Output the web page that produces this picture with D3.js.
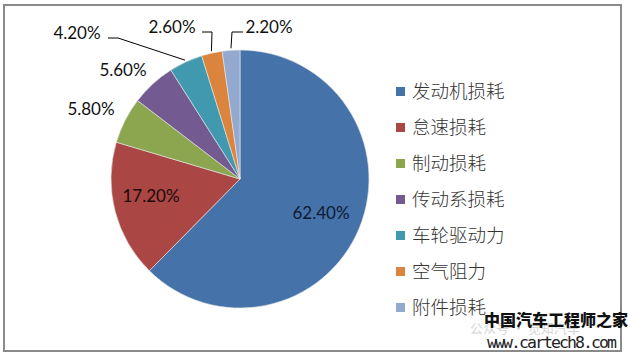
<!DOCTYPE html>
<html><head><meta charset="utf-8">
<script src="https://cdn.jsdelivr.net/npm/d3@7/dist/d3.min.js"></script>
<style>body{margin:0;background:#fff}svg{display:block}</style>
</head><body>
<svg id="c" width="628" height="359"></svg>
<script>
const categories = ["发动机损耗","怠速损耗","制动损耗","传动系损耗","车轮驱动力","空气阻力","附件损耗"];
const values = [62.4, 17.2, 5.8, 5.6, 4.2, 2.6, 2.2];
const labels = ["62.40%","17.20%","5.80%","5.60%","4.20%","2.60%","2.20%"];
const colors = ["#4672AA","#AA4643","#8BA64F","#735A90","#4199B0","#DB843D","#93A9CF"];

const svg = d3.select("#c");
svg.append("rect").attr("x",4).attr("y",5).attr("width",617).attr("height",346)
  .attr("fill","#fff").attr("stroke","#8a8a8a").attr("stroke-width",2);

const cx = 240, cy = 179, R = 129;
const g = svg.append("g").attr("transform",`translate(${cx},${cy})`);
const pie = d3.pie().sort(null).value(d=>d);
const arcs = pie(values);
const arc = d3.arc().innerRadius(0).outerRadius(R);
g.selectAll("path").data(arcs).enter().append("path")
  .attr("d",arc).attr("fill",(d,i)=>colors[i])
  .attr("stroke","#e8e8e8").attr("stroke-width",0.6);

const font = "Lato, 'Open Sans', sans-serif";
const labelPos = [
  {x:321, y:219},
  {x:151, y:202},
  {x:91, y:115},
  {x:123, y:76},
  {x:77, y:39},
  {x:172, y:33},
  {x:269, y:33}
];
svg.selectAll("text.lbl").data(arcs).enter().append("text").attr("class","lbl")
  .attr("x",(d,i)=>labelPos[i].x).attr("y",(d,i)=>labelPos[i].y)
  .attr("text-anchor","middle").attr("font-family",font).attr("font-size",17)
  .attr("fill",(d,i)=>i===0?"#0d1a33":(i===1?"#1a0a0a":"#111"))
  .text((d,i)=>labels[i]);

const edge = (d,r)=>{const a=(d.startAngle+d.endAngle)/2; return [cx+Math.sin(a)*r, cy-Math.cos(a)*r];};
const leaders = [
  {i:4, pts:[[108,38],[118,38]]},
  {i:5, pts:[[202,32],[212,32]]},
  {i:6, pts:[[243,32],[232,32]]}
];
leaders.forEach(l=>{
  const e = edge(arcs[l.i], R+2);
  svg.append("polyline").attr("points",[...l.pts,e].map(p=>p.join(",")).join(" "))
    .attr("fill","none").attr("stroke","#000").attr("stroke-width",1);
});

const leg = svg.append("g");
const ly = d3.scaleBand().domain(categories).range([73,325]);
categories.forEach((c,i)=>{
  const y = ly(c)+ly.bandwidth()/2;
  leg.append("rect").attr("x",396).attr("y",y-4).attr("width",9).attr("height",9).attr("fill",colors[i]);
  leg.append("text").attr("x",412).attr("y",y+6.5).attr("font-family","'Noto Sans CJK SC', sans-serif")
    .attr("font-weight",300).attr("font-size",18.5).attr("fill","#333").text(c);
});

svg.append("text").attr("x",470).attr("y",333).attr("font-family","'Noto Sans CJK SC'")
  .attr("font-size",13).attr("fill","#d6d6d6").text("公众号 · 觉知汽车");
svg.append("text").attr("x",484).attr("y",326).attr("font-family","'Noto Sans CJK SC'")
  .attr("font-weight",900).attr("font-size",16).attr("fill","#111").text("中国汽车工程师之家");
svg.append("text").attr("x",487).attr("y",348).attr("font-family","'DejaVu Sans Mono', monospace")
  .attr("font-size",16.5).attr("fill","#222").attr("textLength",130).text("www.cartech8.com");
</script>
</body></html>
